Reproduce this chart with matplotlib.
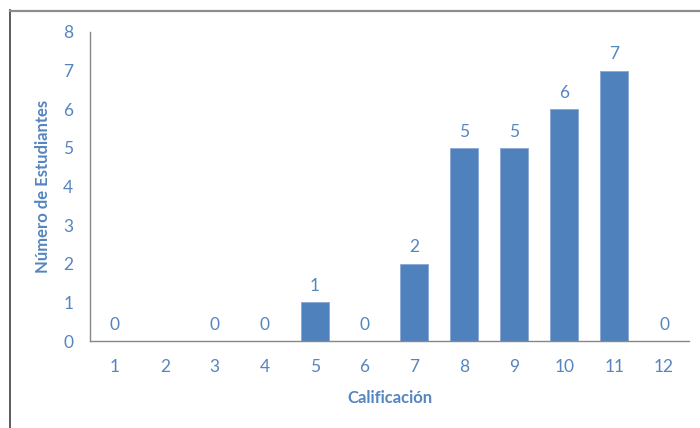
import numpy as np
import matplotlib
matplotlib.use("Agg")
import matplotlib.pyplot as plt
from matplotlib.lines import Line2D

# Distribución de calificaciones
categorias = [1, 2, 3, 4, 5, 6, 7, 8, 9, 10, 11, 12]
estudiantes = [0, np.nan, 0, 0, 1, 0, 2, 5, 5, 6, 7, 0]
y_ticks = [0, 1, 2, 3, 4, 5, 6, 7, 8]

azul = "#4F81BD"
texto = "#5585C0"
eje = "#878787"

plt.rcParams["font.family"] = ["Lato", "DejaVu Sans"]

fig = plt.figure(figsize=(7.0, 4.28), dpi=100)
ax = fig.add_axes([90 / 700, 87 / 428, 599 / 700, 309 / 428])

x = np.arange(len(categorias))
valores = np.nan_to_num(np.array(estudiantes, dtype=float))
ax.bar(x, valores, width=0.56, color=azul, edgecolor="#8aa8d4", linewidth=0.6, zorder=2)

for xi, v in zip(x, estudiantes):
    if np.isnan(v):
        continue
    ax.annotate(f"{int(v)}", (xi, v), xytext=(0, 6), textcoords="offset points",
                ha="center", va="bottom", fontsize=12.5, color=texto)

ax.set_xlim(-0.5, len(categorias) - 0.5)
ax.set_ylim(0, 8)
ax.set_xticks(x)
ax.set_xticklabels([str(c) for c in categorias])
ax.set_yticks(y_ticks)

ax.tick_params(axis="both", length=0, labelsize=12.5, labelcolor=texto)
ax.tick_params(axis="x", pad=13)
ax.tick_params(axis="y", pad=12)

for lado in ("top", "right"):
    ax.spines[lado].set_visible(False)
for lado in ("left", "bottom"):
    ax.spines[lado].set_color(eje)
    ax.spines[lado].set_linewidth(1.0)

ax.set_xlabel("Calificación", fontsize=12, fontweight="bold", color=texto, labelpad=11)
ax.set_ylabel("Número de Estudiantes", fontsize=12, fontweight="bold", color=texto, labelpad=9)

# Marco del gráfico
fig.add_artist(Line2D([10 / 700, 10 / 700], [0, 1 - 10 / 428], transform=fig.transFigure,
                      color="#404040", linewidth=1.2))
fig.add_artist(Line2D([10 / 700, 1], [1 - 10.5 / 428, 1 - 10.5 / 428], transform=fig.transFigure,
                      color="#8c8c8c", linewidth=1.6))

fig.savefig("out.png", dpi=100)
